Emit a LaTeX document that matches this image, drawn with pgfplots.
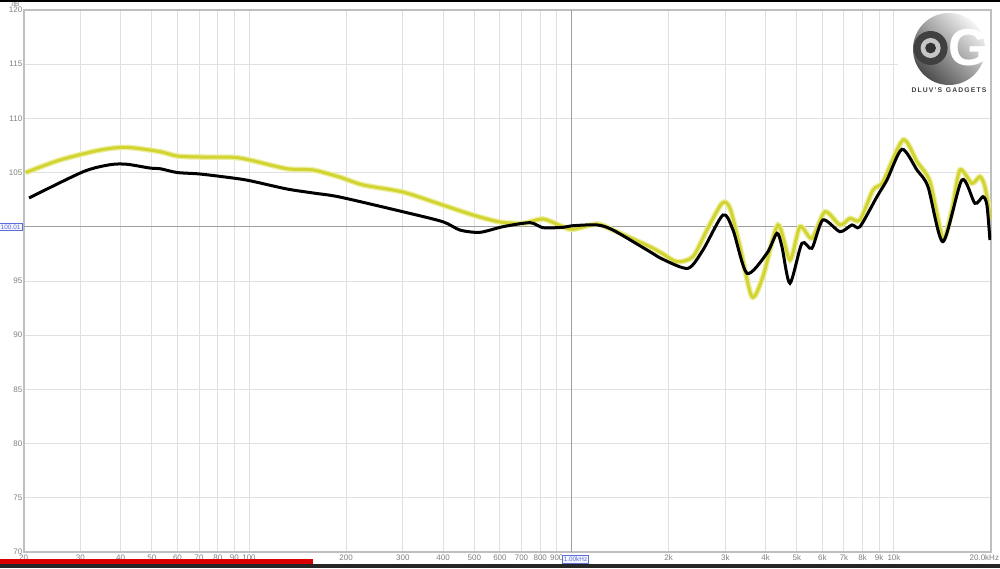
\documentclass[border=0pt]{standalone}
\usepackage{fontspec}
\setmainfont{Liberation Sans}
\usepackage{pgfplots}
\usepackage{pgfplotstable}
\pgfplotsset{compat=1.18}

\pgfplotstableread{
f db
20.3 105.0
25.9 106.16
34.5 107.08
41.8 107.33
53 106.93
59.8 106.53
70.5 106.44
89.2 106.41
100.7 106.16
131 105.36
158 105.24
191 104.59
226 103.86
300 103.21
399 102.01
495 101.09
600 100.44
707 100.32
816 100.72
941 100.0
1011 99.77
1200 100.26
1345 99.70
1751 98.16
1921 97.5
2124 96.78
2380 97.24
2630 99.70
2929 102.17
3100 101.73
3331 98.16
3628 93.55
3924 95.40
4368 100.17
4758 96.94
5110 100.01
5566 98.94
6109 101.39
6801 100.17
7302 100.78
7844 100.63
8610 103.39
9246 104.16
10666 108.01
11785 106.01
12932 104.16
14188 98.94
15128 101.55
16018 105.24
17450 104.01
18474 104.62
19148 103.70
20000 100.63
}\yellowdata

\pgfplotstableread{
f db
20.8 102.66
30.6 105.08
37.1 105.73
41.8 105.77
49.3 105.42
53 105.36
59.8 105.01
70.5 104.87
89.2 104.50
100.7 104.25
131 103.49
158 103.12
191 102.75
300 101.39
399 100.47
451 99.70
520 99.49
613 100.01
744 100.38
816 99.92
941 99.95
1011 100.10
1200 100.17
1345 99.70
1751 97.70
1921 97.0
2297 96.17
2557 97.86
2950 101.09
3169 99.70
3502 95.71
4038 97.56
4337 99.40
4494 98.16
4758 94.79
5183 98.48
5566 98.02
6021 100.63
6801 99.55
7408 100.17
7844 100.01
8858 102.78
9514 104.32
10590 107.15
11785 105.24
12748 103.70
14188 98.63
16248 104.32
17826 102.17
18876 102.78
19424 102.01
19844 98.78
}\blackdata

\definecolor{ycore}{RGB}{210,212,50}
\definecolor{yhalo}{RGB}{236,238,160}
\definecolor{gridc}{RGB}{224,224,224}
\definecolor{boxblue}{RGB}{90,110,220}
\newcommand{\bx}[1]{{\fontsize{3.2}{3.6}\selectfont\setlength{\fboxsep}{0.6pt}\setlength{\fboxrule}{0.3pt}\fcolorbox{boxblue}{blue!4}{\color{boxblue}#1}}}

\begin{document}
\begin{tikzpicture}
\useasboundingbox (-11.8pt,-8pt) rectangle (488.2pt,276pt);
\fill[white] (-11.8pt,-8pt) rectangle (488.2pt,276pt);
\begin{axis}[
  at={(0,0)}, anchor=south west,
  scale only axis, width=483.7pt, height=271pt,
  xmode=log, xmin=20, xmax=20000, ymin=70, ymax=120,
  xtick={20,30,40,50,60,70,80,90,100,200,300,400,500,600,700,800,900,2000,3000,4000,5000,6000,7000,8000,9000,10000,20000},
  xticklabels={20,30,40,50,60,70,80,90,100,200,300,400,500,600,700,800,900,2k,3k,4k,5k,6k,7k,8k,9k,10k,{\makebox[8pt][r]{20.0kHz}}},
  extra x ticks={1000}, extra x tick labels={\hspace*{4pt}\bx{1.00kHz}},
  extra x tick style={major grid style={gray!75, line width=0.5pt}},
  ytick={70,75,80,85,90,95,105,110,115,120},
  extra y ticks={100}, extra y tick labels={\bx{100.01}},
  extra y tick style={major grid style={gray!75, line width=0.5pt}},
  grid=major, major grid style={gridc, line width=0.5pt},
  axis line style={gray!50, line width=0.9pt},
  major tick length=0pt,
  /pgf/number format/assume math mode=true,
  ticklabel style={font=\fontsize{4.0}{4.5}\selectfont, text=gray},
  yticklabel style={inner sep=0.5pt},
  xticklabel style={inner sep=1.2pt},
]
\addplot[yhalo, line width=2.8pt, smooth, tension=0.45] table[x=f,y=db] {\yellowdata};
\addplot[ycore, line width=1.5pt, smooth, tension=0.45] table[x=f,y=db] {\yellowdata};
\addplot[black, line width=1.5pt, smooth, tension=0.45] table[x=f,y=db] {\blackdata};
\end{axis}
% dB label
\node[font=\fontsize{3.2}{3.5}\selectfont, text=gray, anchor=north, inner sep=0pt] at (-4pt,275.3pt) {dB};
% top black strip
\fill[black] (-11.8pt,275pt) rectangle (488.2pt,276pt);
% logo
\fill[white] (437pt,226pt) rectangle (483pt,270.5pt);
\shade[top color=gray!8, bottom color=black!70, shading angle=-45] (462.7pt,251.5pt) circle (18pt);
\fill[black!75] (453.5pt,252pt) circle (8.5pt);
\fill[gray!45] (453.5pt,252pt) circle (5pt);
\fill[black!80] (453.5pt,252pt) circle (2.7pt);
\node[font=\bfseries\fontsize{26}{26}\selectfont, text=white, inner sep=0pt] at (472.5pt,252pt) {G};
\node[font=\bfseries\fontsize{3.4}{4}\selectfont, text=black!75, inner sep=0pt] at (462.7pt,231pt) {D\,L\,U\,V\,'\,S\; G\,A\,D\,G\,E\,T\,S};
% video progress bar
\fill[black!85] (-11.8pt,-8pt) rectangle (488.2pt,-6pt);
\fill[red!85!black] (-11.8pt,-6.2pt) rectangle (144.7pt,-3.4pt);
\end{tikzpicture}
\end{document}
